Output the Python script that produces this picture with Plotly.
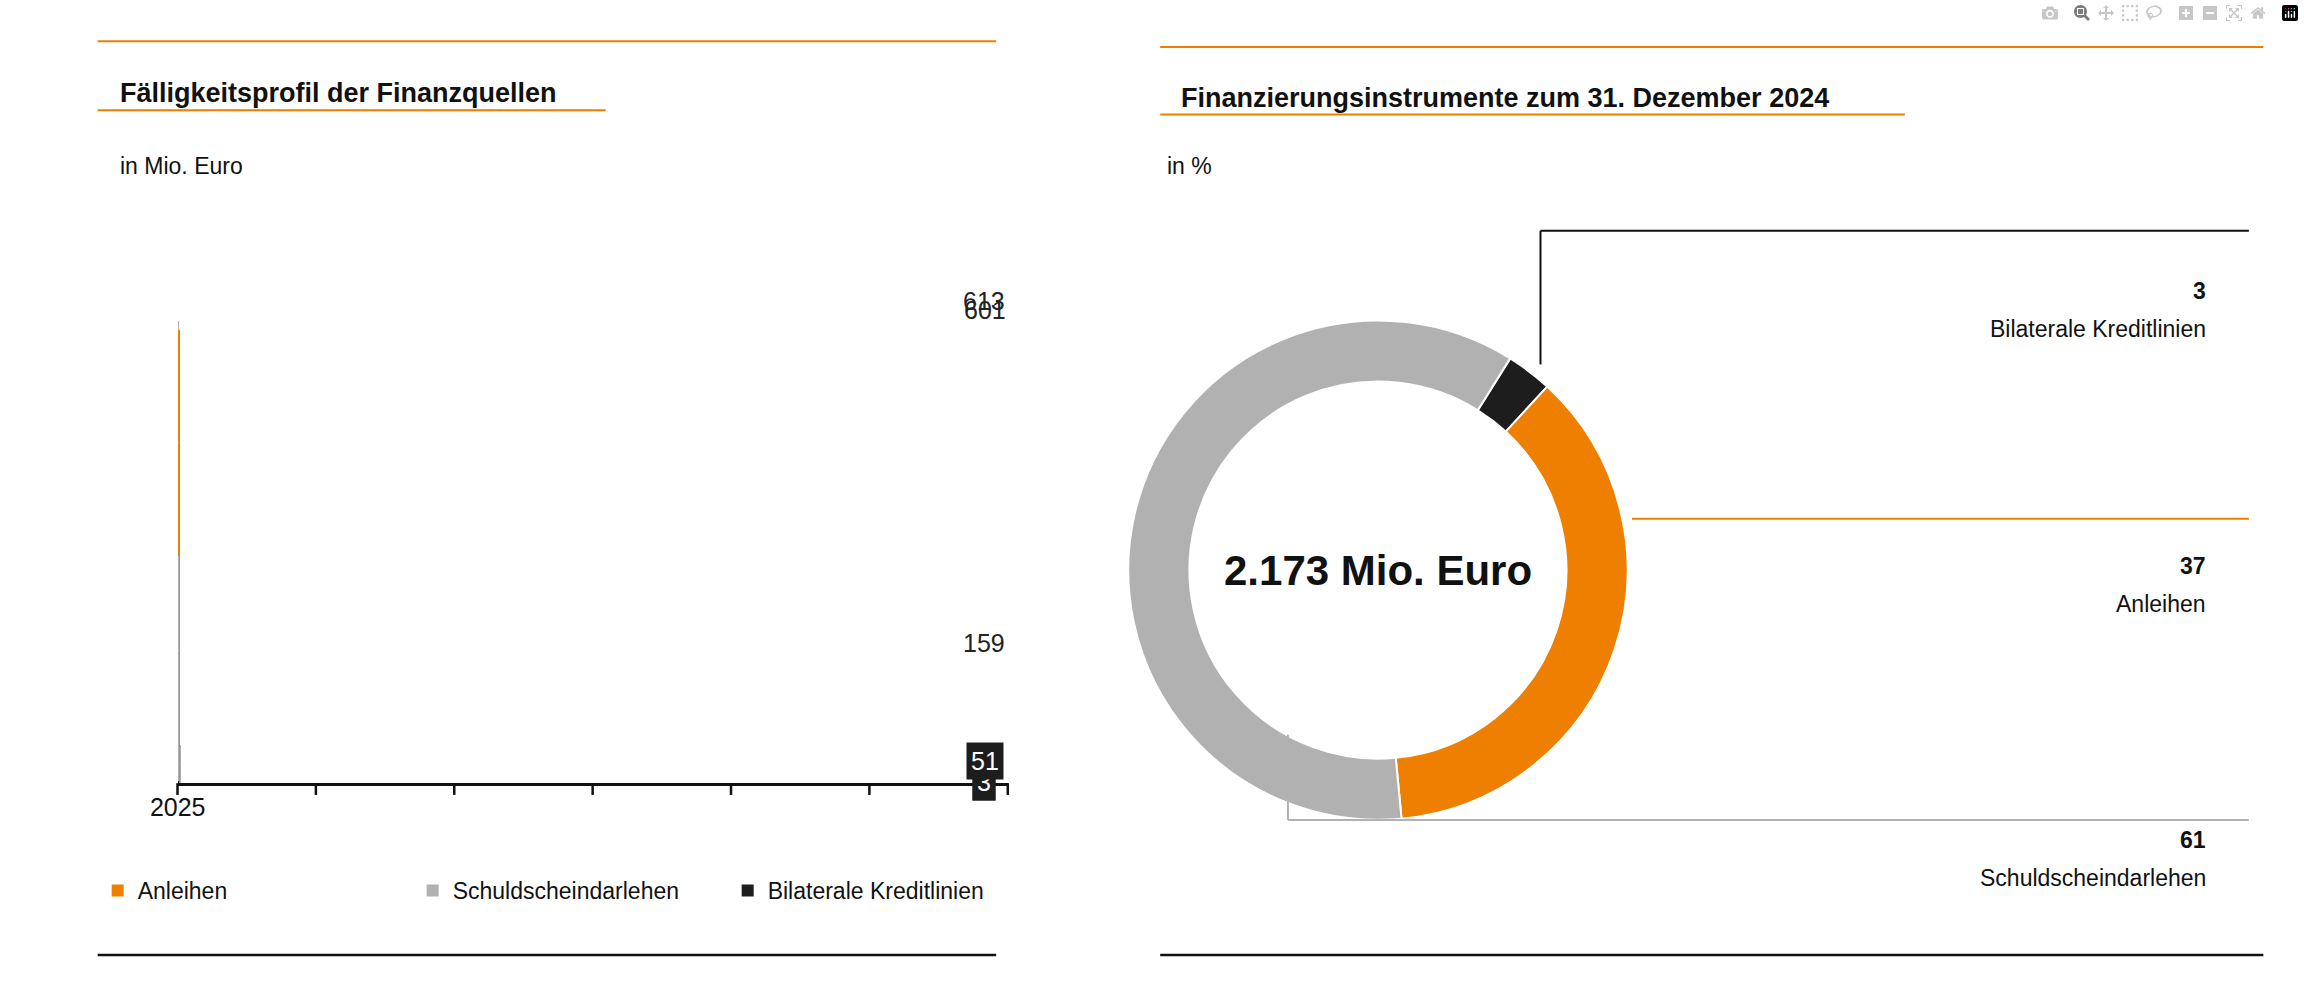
import plotly.graph_objects as go

# Daten
jahre = ["2025", "2026", "2027", "2028", "2029", "2030"]
bilaterale = [4, 3, 51, 0, 0, 0]
schuldschein = [155, 610, 250, 251, 0, 50]
anleihen = [0, 0, 300, 0, 500, 0]
summen = [159, 613, 601, None, None, None]

anteile_namen = ["Bilaterale Kreditlinien", "Anleihen", "Schuldscheindarlehen"]
anteile_werte = [3, 37, 61]
gesamt_text = "2.173 Mio. Euro"

ORANGE = "#ee7f00"
GRAU = "#b1b1b1"
SCHWARZ = "#1d1d1d"
FONT = "Liberation Sans Narrow, Arial Narrow, Liberation Sans, Arial"

W, H = 1568.0, 686.0  # Koordinaten im Referenzbild
def px(x): return x / W
def py(y): return 1 - y / H

fig = go.Figure()

fig.add_bar(x=jahre, y=bilaterale, name="Bilaterale Kreditlinien", marker_color=SCHWARZ,
            marker_line_width=0)
fig.add_bar(x=jahre, y=schuldschein, name="Schuldscheindarlehen", marker_color=GRAU,
            marker_line_width=0, text=[str(v) if v else "" for v in schuldschein],
            textposition="inside", insidetextanchor="middle", textangle=0,
            textfont=dict(color="white", size=25, family=FONT))
fig.add_bar(x=jahre, y=anleihen, name="Anleihen", marker_color=ORANGE,
            marker_line_width=0, text=[str(v) if v else "" for v in anleihen],
            textposition="inside", insidetextanchor="middle", textangle=0,
            textfont=dict(color="white", size=25, family=FONT))

for j, s, b in zip(jahre, summen, bilaterale):
    if s is not None:
        fig.add_annotation(x=j, y=s, text=str(s), showarrow=False, yanchor="bottom", yshift=4,
                           font=dict(size=25, color="#222", family=FONT))
    if b:
        fig.add_annotation(x=j, y=b / 2, text=str(b), showarrow=False,
                           bgcolor=SCHWARZ, font=dict(size=25, color="white", family=FONT),
                           borderpad=4, yshift=0 if b < 20 else 3)

fig.add_pie(labels=anteile_namen, values=anteile_werte, hole=0.755, sort=False,
            direction="clockwise", rotation=32, textinfo="none", showlegend=False,
            marker=dict(colors=[SCHWARZ, ORANGE, GRAU], line=dict(color="white", width=2)),
            domain=dict(x=[px(758), px(1102)], y=[py(560), py(216)]))

fig.add_annotation(xref="paper", yref="paper", x=px(930), y=py(388), text="<b>" + gesamt_text + "</b>",
                   showarrow=False, font=dict(size=42, color="#111", family=FONT))

# Linien
shapes = []
def line(x0, y0, x1, y1, color, w=2):
    shapes.append(dict(type="line", xref="paper", yref="paper", x0=px(x0), y0=py(y0),
                       x1=px(x1), y1=py(y1), line=dict(color=color, width=w)))

line(48, 28, 667, 28, ORANGE)
line(48, 75, 398, 75, ORANGE)
line(48, 650, 667, 650, "#111", 2.5)
line(780, 32, 1540, 32, ORANGE)
line(780, 78, 1293, 78, ORANGE)
line(780, 650, 1540, 650, "#111", 2.5)
line(1042, 248, 1042, 157, "#111")
line(1042, 157, 1530, 157, "#111")
line(1105, 353, 1530, 353, ORANGE)
line(868, 500, 868, 558, GRAU)
line(868, 558, 1530, 558, GRAU)
for i in range(7):
    xx = 103 + i * (675 - 103) / 6
    line(xx, 533, xx, 541, "#111", 2.5)
fig.update_layout(shapes=shapes)

def text(x, y, t, size, anchor="left", bold=False):
    fig.add_annotation(xref="paper", yref="paper", x=px(x), y=py(y), text=("<b>%s</b>" % t) if bold else t,
                       showarrow=False, xanchor=anchor, font=dict(size=size, color="#111", family=FONT))

text(62, 52, "Fälligkeitsprofil der Finanzquellen", 27, bold=True)
text(62, 103, "in Mio. Euro", 23)
text(793, 55, "Finanzierungsinstrumente zum 31. Dezember 2024", 27, bold=True)
text(783, 103, "in %", 23)
text(1502, 188, "3", 23, "right", True)
text(1502, 214, "Bilaterale Kreditlinien", 23, "right")
text(1502, 385, "37", 23, "right", True)
text(1502, 411, "Anleihen", 23, "right")
text(1502, 582, "61", 23, "right", True)
text(1502, 608, "Schuldscheindarlehen", 23, "right")

fig.update_layout(
    width=2304, height=1008, margin=dict(l=0, r=0, t=0, b=0),
    paper_bgcolor="white", plot_bgcolor="white",
    barmode="stack", bargap=0.54,
    font=dict(family=FONT, color="#111"),
    xaxis=dict(type="category", domain=[px(103), px(675)], showline=True, linecolor="#111",
               linewidth=3, ticks="", tickfont=dict(size=25, family=FONT), showgrid=False),
    yaxis=dict(domain=[py(533), py(533) + 0.527], range=[0, 704], visible=False),
    legend=dict(orientation="h", x=px(48), y=py(606), yanchor="middle", traceorder="reversed",
                font=dict(size=23, family=FONT), entrywidth=270, itemwidth=30),
)

fig.write_html("out.html", post_script="document.body.style.margin='0';")
